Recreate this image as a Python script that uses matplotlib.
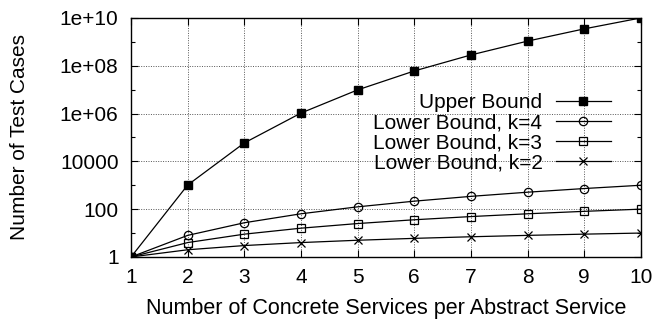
import matplotlib
matplotlib.use("Agg")
import matplotlib.pyplot as plt
import numpy as np

plt.rcParams['font.family'] = ['Liberation Sans', 'DejaVu Sans']

# number of concrete services per abstract service
services = [1, 2, 3, 4, 5, 6, 7, 8, 9, 10]

upper_bound = [1, 1024, 59049, 1048576, 9765625, 60466176, 282475249,
               1073741824, 3486784401, 10000000000]
lower_k4 = [1, 8, 27, 64, 125, 216, 343, 512, 729, 1000]
lower_k3 = [1, 4, 9, 16, 25, 36, 49, 64, 81, 100]
lower_k2 = [1, 2, 3, 4, 5, 6, 7, 8, 9, 10]

y_ticks = [1, 1e2, 1e4, 1e6, 1e8, 1e10]
y_tick_labels = ['1', '100', '10000', '1e+06', '1e+08', '1e+10']
y_minor = [1e1, 1e3, 1e5, 1e7, 1e9]

FS = 15

fig = plt.figure(figsize=(6.52, 3.2), dpi=100)
ax = fig.add_axes([0.201, 0.197, 0.782, 0.747])

line_kw = dict(color='black', linewidth=0.9)
ax.plot(services, upper_bound, marker='s', markersize=6, markerfacecolor='black',
        markeredgecolor='black', label='Upper Bound', **line_kw)
ax.plot(services, lower_k4, marker='o', markersize=6, markerfacecolor='none',
        markeredgecolor='black', markeredgewidth=0.9, label='Lower Bound, k=4', **line_kw)
ax.plot(services, lower_k3, marker='s', markersize=6, markerfacecolor='none',
        markeredgecolor='black', markeredgewidth=0.9, label='Lower Bound, k=3', **line_kw)
ax.plot(services, lower_k2, marker='x', markersize=6, markeredgecolor='black',
        markeredgewidth=0.9, label='Lower Bound, k=2', **line_kw)

ax.set_yscale('log')
ax.set_xlim(1, 10)
ax.set_ylim(1, 1e10)
ax.set_xticks(services)
ax.set_yticks(y_ticks)
ax.set_yticklabels(y_tick_labels)
ax.set_yticks(y_minor, minor=True)
ax.yaxis.set_minor_formatter(matplotlib.ticker.NullFormatter())

ax.tick_params(which='both', direction='in', top=True, right=True, labelsize=FS)
ax.tick_params(axis='y', pad=9)
ax.tick_params(axis='x', pad=8)
ax.tick_params(which='major', length=5, width=0.8)
ax.tick_params(which='minor', length=3, width=0.8)
ax.grid(True, which='major', linestyle=(0, (1, 1.5)), color='#555555', linewidth=0.7)
for spine in ax.spines.values():
    spine.set_linewidth(1.0)

ax.set_xlabel('Number of Concrete Services per Abstract Service', fontsize=15.5, labelpad=8)
ax.set_ylabel('Number of Test Cases', fontsize=FS, labelpad=22)

leg = ax.legend(loc='upper right', bbox_to_anchor=(0.969, 0.745), frameon=False,
                markerfirst=False, fontsize=FS, handlelength=2.6, handletextpad=0.67,
                labelspacing=0.05, borderpad=0.2)

fig.savefig('out.png', dpi=100)
